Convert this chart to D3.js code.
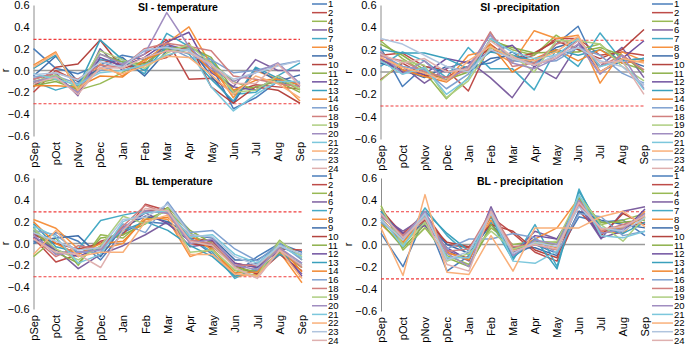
<!DOCTYPE html>
<html><head><meta charset="utf-8">
<script src="https://cdn.jsdelivr.net/npm/d3@7"></script>
<style>
html,body{margin:0;padding:0;background:#fff;}
svg text{font-family:Arial,"Liberation Sans",sans-serif;fill:#000;}
</style></head>
<body>
<svg id="c" width="685" height="344"></svg>
<script>
const categories = ["pSep","pOct","pNov","pDec","Jan","Feb","Mar","Apr","May","Jun","Jul","Aug","Sep"];
const seriesNames = ["1","2","4","6","7","8","9","10","11","12","13","14","16","18","19","20","21","22","23","24"];
const seriesColors = ["#4A7EBB","#BE4B48","#98B954","#7D60A0","#46AAC5","#F69240","#3E6DAA","#B4443F","#8DB04A","#7052A0","#3AA0BC","#F0862E","#7FA1D0","#D17F7E","#AECE80","#A08DC0","#7CC7DC","#F9B07A","#B0C4DE","#DFB0AF"];
const panelTitles = ["SI - temperature","SI -precipitation","BL temperature","BL - precipitation"];
const yTicks = [0.6,0.4,0.2,0.0,-0.2,-0.4,-0.6];
const sigHigh = [0.285,0.285,0.29,0.295];
const sigLow = [-0.305,-0.305,-0.305,-0.31];

const siTemp = [
 [0.20,0.02,-0.03,0.05,0.14,0.10,0.22,0.20,0.05,-0.35,-0.25,-0.10,-0.15],
 [-0.20,0.00,-0.10,0.10,0.05,0.15,0.28,-0.08,-0.07,-0.20,-0.13,-0.15,-0.17],
 [-0.12,-0.08,-0.18,-0.12,-0.02,0.10,0.20,0.16,0.08,-0.10,-0.18,-0.07,-0.18],
 [-0.08,-0.02,-0.23,0.20,0.00,0.05,0.24,0.18,0.00,-0.15,0.10,0.00,0.00],
 [-0.10,-0.18,-0.12,0.10,0.08,-0.03,0.34,0.22,0.10,-0.22,-0.20,-0.05,0.07],
 [0.05,0.17,-0.20,0.06,-0.05,0.08,0.25,0.40,0.05,-0.25,0.00,-0.08,-0.28],
 [-0.05,0.13,-0.10,0.02,0.12,-0.05,0.18,0.22,-0.05,-0.30,0.02,-0.10,-0.04],
 [-0.15,0.03,0.06,0.28,0.02,0.07,0.12,0.25,-0.15,-0.30,-0.15,-0.18,-0.30],
 [-0.14,-0.10,-0.17,0.15,0.08,0.06,0.20,0.22,0.12,-0.18,-0.15,-0.10,-0.20],
 [-0.12,-0.04,-0.22,0.12,0.04,0.12,0.26,0.35,-0.02,-0.15,-0.18,-0.05,-0.14],
 [0.02,0.14,-0.15,0.28,0.10,0.00,0.22,0.15,-0.08,-0.28,0.03,-0.07,-0.12],
 [-0.14,-0.14,-0.15,-0.05,-0.06,0.10,0.18,0.20,0.00,-0.18,-0.09,-0.08,-0.13],
 [-0.06,-0.05,-0.12,0.00,0.05,0.18,0.22,0.12,0.10,-0.02,0.00,0.05,0.09],
 [-0.08,-0.02,-0.08,0.05,0.03,0.20,0.25,0.22,0.18,-0.05,-0.08,-0.12,-0.15],
 [-0.10,-0.04,-0.16,0.18,0.10,0.02,0.16,0.24,0.06,-0.20,-0.18,-0.05,-0.17],
 [-0.10,-0.06,-0.20,0.15,0.06,0.15,0.53,0.22,0.02,-0.10,-0.02,0.07,-0.12],
 [-0.03,-0.08,-0.13,-0.02,0.00,0.05,0.14,0.20,-0.15,-0.37,-0.22,-0.10,-0.10],
 [0.03,0.16,-0.18,0.02,-0.03,0.04,0.13,0.12,-0.04,-0.22,-0.05,-0.12,-0.25],
 [-0.04,-0.02,-0.09,0.08,0.03,0.19,0.21,0.18,0.05,-0.08,-0.02,0.04,0.09],
 [-0.12,-0.06,-0.22,0.03,0.02,0.12,0.18,0.16,0.06,-0.12,-0.12,0.06,-0.14]
];
const siPrec = [
 [0.22,-0.13,0.05,0.00,0.05,0.08,0.18,0.05,0.25,0.41,0.00,0.10,0.12],
 [0.15,0.17,0.05,0.02,-0.17,0.25,0.10,0.15,0.30,0.30,0.15,0.18,0.15],
 [0.28,0.12,0.00,-0.24,-0.05,0.30,0.20,0.15,0.33,0.20,0.25,0.08,0.02],
 [0.10,0.05,-0.10,0.03,0.10,-0.05,-0.23,0.05,-0.06,0.25,0.05,0.22,-0.05],
 [0.05,0.18,0.10,-0.05,0.22,0.03,0.03,-0.16,0.20,0.05,0.35,0.10,0.12],
 [0.12,0.00,0.03,-0.08,0.15,0.20,0.08,0.37,0.30,0.33,-0.10,0.18,0.10],
 [0.08,0.02,-0.05,0.05,0.00,0.12,0.15,0.08,0.22,0.28,0.05,0.12,0.05],
 [-0.07,0.08,-0.03,-0.05,0.05,0.22,0.12,0.17,0.28,0.20,0.12,0.20,0.38],
 [0.25,0.15,0.02,-0.07,0.00,0.28,0.22,0.17,0.18,0.18,0.22,0.15,0.00],
 [0.12,0.00,-0.02,0.12,0.08,0.18,0.24,0.05,0.15,0.28,0.00,0.12,0.28],
 [0.20,0.17,0.17,0.12,0.03,0.18,0.15,0.10,0.20,0.15,0.20,0.10,0.12],
 [0.18,0.02,-0.04,-0.09,0.05,0.25,0.00,0.12,0.20,0.10,0.20,0.08,0.10],
 [0.16,0.05,0.02,-0.15,-0.02,0.35,0.10,0.08,0.10,0.22,0.15,-0.01,-0.10],
 [0.14,0.10,0.00,-0.05,0.02,0.36,0.05,0.08,0.25,0.30,0.05,0.15,0.02],
 [-0.08,0.10,0.06,-0.23,-0.08,0.22,0.15,0.00,0.28,0.28,0.25,0.05,-0.08],
 [0.18,-0.02,0.10,-0.08,0.05,0.33,0.08,0.03,0.12,0.25,-0.02,0.15,-0.15],
 [0.10,-0.02,0.04,-0.20,-0.06,0.30,0.18,0.12,0.15,0.30,0.05,0.10,-0.16],
 [0.13,0.04,-0.01,-0.08,0.10,0.23,0.12,0.10,0.18,0.32,0.00,0.12,0.08],
 [0.30,0.25,0.15,0.05,0.00,0.20,0.12,0.06,0.15,0.22,0.10,0.05,-0.12],
 [0.16,0.08,0.12,0.00,0.03,0.28,0.14,0.06,0.13,0.28,0.08,0.10,-0.20]
];
const blTemp = [
 [0.00,0.10,0.02,-0.15,0.10,0.20,0.18,0.05,-0.10,-0.28,-0.12,0.00,-0.08],
 [0.05,-0.17,-0.10,0.02,0.08,0.36,0.30,0.05,0.02,-0.18,-0.22,-0.05,-0.06],
 [-0.12,0.05,-0.20,0.08,0.05,0.22,0.30,0.10,-0.05,-0.25,-0.25,0.03,-0.15],
 [0.10,-0.05,-0.23,-0.10,-0.02,0.08,0.20,-0.03,0.00,-0.22,-0.18,-0.08,-0.28],
 [0.15,-0.10,-0.05,0.21,0.26,0.30,0.28,0.05,-0.08,-0.32,-0.22,-0.05,-0.20],
 [0.22,0.14,-0.05,-0.05,0.00,0.25,0.22,-0.12,-0.05,-0.30,-0.28,-0.08,-0.36],
 [0.02,0.05,0.07,-0.12,0.15,0.25,0.20,0.08,0.05,-0.15,-0.15,-0.03,-0.10],
 [0.08,0.00,-0.05,0.00,0.12,0.30,0.32,0.00,-0.03,-0.20,-0.28,-0.10,-0.25],
 [0.12,-0.08,-0.18,0.05,0.08,0.18,0.33,0.12,0.00,-0.22,-0.26,-0.08,-0.22],
 [0.06,-0.06,-0.12,-0.03,0.14,0.28,0.18,0.02,0.03,-0.18,-0.22,-0.06,-0.30],
 [0.18,-0.03,-0.08,-0.05,0.12,0.20,0.12,-0.02,-0.12,-0.30,-0.25,-0.10,-0.18],
 [0.20,0.00,-0.10,0.00,0.02,0.22,0.24,0.08,-0.06,-0.27,-0.26,-0.03,-0.26],
 [0.12,0.08,-0.08,-0.08,0.18,0.10,0.38,0.10,0.12,-0.05,-0.16,0.00,-0.15],
 [0.05,-0.12,-0.02,-0.05,0.16,0.35,0.27,0.03,0.00,-0.20,-0.20,-0.05,-0.22],
 [0.14,-0.05,-0.15,-0.02,0.25,0.18,0.32,-0.08,-0.06,-0.24,-0.30,0.02,-0.12],
 [0.08,-0.10,-0.08,-0.06,0.14,0.30,0.28,0.00,0.04,-0.20,-0.24,-0.04,-0.18],
 [0.16,0.06,-0.18,-0.10,0.20,0.28,0.30,0.06,0.08,-0.10,-0.18,-0.02,-0.13],
 [-0.10,0.12,-0.12,-0.08,-0.08,0.20,0.26,-0.10,-0.10,-0.28,-0.30,-0.06,-0.32],
 [0.10,0.02,-0.06,-0.04,0.22,0.24,0.36,0.08,0.06,-0.12,-0.20,-0.02,-0.10],
 [0.04,-0.08,-0.10,-0.22,0.12,0.32,0.30,0.02,-0.02,-0.22,-0.32,-0.06,-0.20]
];
const blPrec = [
 [0.10,-0.20,0.25,-0.24,-0.10,0.20,-0.10,0.00,-0.08,0.25,0.20,0.22,0.08],
 [0.30,0.10,0.28,0.00,-0.03,0.25,0.10,-0.07,-0.15,0.30,0.10,0.15,0.20],
 [0.35,-0.05,0.15,-0.10,-0.18,0.15,0.00,0.03,0.02,0.40,0.18,0.22,0.28],
 [0.25,0.12,0.25,-0.05,-0.15,0.34,-0.08,0.12,0.05,0.35,0.05,0.30,0.34],
 [0.22,0.02,0.33,0.08,-0.10,0.20,-0.14,0.18,-0.20,0.50,0.10,0.15,0.25],
 [0.18,0.00,0.22,-0.08,-0.12,0.22,-0.05,0.05,0.15,0.42,0.12,0.10,0.30],
 [0.30,0.05,0.20,0.00,-0.08,0.18,-0.03,-0.03,-0.10,0.30,0.22,0.18,0.15],
 [0.32,0.08,0.22,0.02,-0.02,0.18,0.12,-0.05,-0.12,0.40,0.08,0.28,0.18],
 [0.20,-0.03,0.18,-0.12,-0.20,0.18,-0.06,0.02,0.00,0.42,0.20,0.20,0.22],
 [0.28,0.10,0.17,-0.03,-0.14,0.28,-0.08,0.08,0.05,0.38,0.06,0.12,0.32],
 [0.30,0.05,0.30,0.10,-0.06,0.25,-0.12,0.05,-0.22,0.48,0.15,0.10,0.20],
 [0.24,0.02,0.26,-0.07,-0.14,0.26,-0.04,0.02,-0.03,0.38,0.14,0.15,0.26],
 [0.20,0.06,0.24,-0.04,0.05,0.05,0.10,0.06,-0.08,0.28,0.25,0.08,0.12],
 [0.26,0.08,0.28,-0.06,-0.04,0.30,-0.02,0.00,-0.05,0.36,0.12,0.18,0.24],
 [0.33,0.00,0.20,-0.15,-0.08,0.12,-0.04,0.01,0.03,0.44,0.18,0.03,0.25],
 [0.27,0.06,0.30,-0.08,-0.20,0.32,-0.10,0.04,0.00,0.40,0.10,0.14,0.28],
 [0.24,-0.02,0.27,-0.12,-0.12,0.28,-0.15,-0.17,-0.06,0.45,0.08,0.06,0.12],
 [0.15,-0.28,0.45,-0.25,-0.27,0.08,-0.24,0.15,0.15,0.15,0.25,0.30,0.16],
 [0.22,0.04,0.28,-0.14,-0.06,0.28,-0.08,0.02,-0.02,0.34,0.15,0.12,0.24],
 [0.28,0.06,0.24,-0.18,-0.24,0.30,-0.06,0.00,-0.04,0.38,0.14,0.16,0.26]
];
const panelData = [siTemp, siPrec, blTemp, blPrec];

// layout (pixels)
const panels = [
 {x0:33.5, x1:300, yT:5,   yB:136, rx:6,   tx:178, ty:7,   lx0:312, lx1:327, ly0:4},
 {x0:380.5,x1:644, yT:5,   yB:139, rx:349, tx:520, ty:7,   lx0:652, lx1:673, ly0:4},
 {x0:33.5, x1:302, yT:178, yB:309, rx:6,   tx:174, ty:181, lx0:312, lx1:327, ly0:176},
 {x0:381,  x1:645, yT:178, yB:311, rx:349, tx:520, ty:181, lx0:652, lx1:673, ly0:176}
];
const legendStep = 8.65;

const svg = d3.select("#c");

panels.forEach((p, pi) => {
  const g = svg.append("g");
  const x = d3.scalePoint().domain(categories).range([p.x0, p.x1]).padding(0);
  const y = d3.scaleLinear().domain([-0.6, 0.6]).range([p.yB, p.yT]);

  const ya = d3.axisLeft(y).tickValues(yTicks).tickSize(0).tickPadding(4)
     .tickFormat(d3.format(".1f"));
  const yg = g.append("g").attr("transform", `translate(${p.x0},0)`).call(ya);
  yg.select(".domain").attr("stroke", "#8c8c8c").attr("stroke-width", 1);
  yg.selectAll("text").style("font-size", "11px").style("font-family","Arial, 'Liberation Sans', sans-serif");

  const xa = d3.axisBottom(x).tickSize(0).tickPadding(0);
  const xg = g.append("g").attr("transform", `translate(0,${p.yB})`).call(xa);
  xg.select(".domain").remove();
  xg.selectAll("text")
    .style("font-size", "11px").style("font-family","Arial, 'Liberation Sans', sans-serif")
    .attr("text-anchor", "end")
    .attr("transform", "rotate(-90)")
    .attr("x", -6).attr("y", 0).attr("dy", "0.35em");

  g.append("line").attr("x1", p.x0).attr("x2", p.x1)
    .attr("y1", y(0)).attr("y2", y(0))
    .attr("stroke", "#9a9a9a").attr("stroke-width", 1.3);

  [sigHigh[pi], sigLow[pi]].forEach(v => {
    g.append("line").attr("x1", p.x0).attr("x2", p.x1)
      .attr("y1", y(v)).attr("y2", y(v))
      .attr("stroke", "#f03c3c").attr("stroke-width", 1.1)
      .attr("stroke-dasharray", "3,2");
  });

  const line = d3.line().x((d, i) => x(categories[i])).y(d => y(d));
  panelData[pi].forEach((vals, si) => {
    g.append("path").datum(vals).attr("d", line)
      .attr("fill", "none").attr("stroke", seriesColors[si])
      .attr("stroke-width", 1.5).attr("stroke-linejoin", "round");
  });

  g.append("text").attr("x", p.tx).attr("y", p.ty).attr("dy", "0.35em")
    .attr("text-anchor", "middle").style("font-size", "10.5px").style("font-weight", "bold")
    .text(panelTitles[pi]);

  g.append("text").attr("transform", `translate(${p.rx + 3},${(p.yT + p.yB) / 2}) rotate(-90)`)
    .attr("text-anchor", "middle")
    .style("font-size", "11px").text("r");

  seriesNames.forEach((nm, si) => {
    const ly = p.ly0 + si * legendStep;
    g.append("line").attr("x1", p.lx0).attr("x2", p.lx1).attr("y1", ly).attr("y2", ly)
      .attr("stroke", seriesColors[si]).attr("stroke-width", 1.5);
    g.append("text").attr("x", p.lx1 + 1).attr("y", ly).attr("dy", "0.35em")
      .style("font-size", "9.5px").text(nm);
  });
});
</script>
</body></html>
